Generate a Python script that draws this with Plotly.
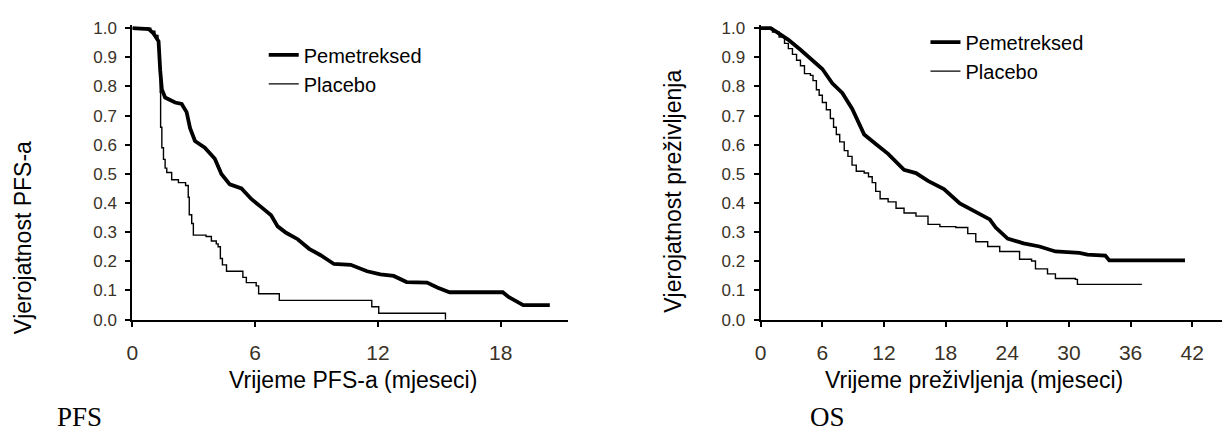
import plotly.graph_objects as go

# ---------------- data ----------------
pfs_pem_months = [0, 0.8, 1.03, 1.28, 1.36, 1.44, 1.6, 2.09, 2.41, 2.65, 2.82, 3.06, 3.54, 4.03,
                  4.35, 4.76, 5.33, 5.81, 6.3, 6.78, 7.1, 7.51, 8.08, 8.64, 9.2, 9.85, 10.67,
                  11.47, 12.12, 12.77, 13.4, 14.4, 14.9, 15.5, 18.1, 18.4, 19.1, 20.4]
pfs_pem_prob = [1.0, 0.997, 0.982, 0.955, 0.855, 0.79, 0.762, 0.745, 0.74, 0.712, 0.657, 0.613,
                0.59, 0.552, 0.50, 0.464, 0.45, 0.414, 0.386, 0.358, 0.32, 0.298, 0.276, 0.243,
                0.221, 0.191, 0.188, 0.166, 0.155, 0.15, 0.129, 0.127, 0.11, 0.094, 0.094, 0.077,
                0.05, 0.05]

pfs_pla_months = [0, 0.9, 1.1, 1.25, 1.3, 1.36, 1.38, 1.44, 1.52, 1.6, 1.68, 1.92, 2.25, 2.6,
                  2.73, 2.78, 2.9, 2.98, 3.6, 3.86, 4.1, 4.19, 4.3, 4.4, 4.6, 5.4, 5.57, 6.05,
                  6.17, 7.18, 11.7, 12.04, 15.3]
pfs_pla_prob = [1.0, 0.99, 0.975, 0.95, 0.88, 0.78, 0.66, 0.59, 0.55, 0.52, 0.505, 0.48, 0.47,
                0.46, 0.42, 0.36, 0.33, 0.29, 0.285, 0.27, 0.26, 0.25, 0.21, 0.188, 0.166, 0.145,
                0.127, 0.116, 0.089, 0.066, 0.044, 0.022, 0.0]

os_pem_months = [0, 0.97, 1.55, 2.71, 3.88, 5.04, 6.01, 6.98, 7.95, 8.92, 10.08, 11.24, 12.41,
                 13.96, 15.12, 16.29, 17.84, 19.39, 20.94, 22.3, 22.88, 24.04, 25.59, 27.14,
                 28.69, 31.02, 31.8, 33.54, 33.93, 41.3]
os_pem_prob = [1.0, 1.0, 0.987, 0.96, 0.926, 0.888, 0.86, 0.811, 0.778, 0.723, 0.635, 0.602,
               0.569, 0.514, 0.503, 0.476, 0.448, 0.399, 0.371, 0.344, 0.316, 0.278, 0.262,
               0.251, 0.234, 0.229, 0.223, 0.22, 0.203, 0.203]

os_pla_months = [0, 1.16, 1.8, 2.33, 2.7, 3.1, 3.5, 3.88, 4.27, 4.85, 5.1, 5.43, 5.7, 6.01,
                 6.4, 6.79, 7.1, 7.37, 7.7, 8.14, 8.5, 8.9, 9.31, 10.08, 10.5, 10.86, 11.2,
                 11.63, 12.41, 13.18, 13.96, 15.12, 16.29, 17.45, 19.0, 20.16, 20.94, 22.1,
                 23.27, 25.2, 26.37, 26.75, 27.92, 28.69, 30.63, 30.83, 37.1]
os_pla_prob = [1.0, 0.987, 0.97, 0.948, 0.93, 0.91, 0.89, 0.871, 0.844, 0.838, 0.82, 0.789,
               0.77, 0.745, 0.72, 0.69, 0.66, 0.635, 0.61, 0.58, 0.56, 0.53, 0.509, 0.503,
               0.49, 0.47, 0.44, 0.415, 0.404, 0.382, 0.366, 0.355, 0.327, 0.319, 0.316, 0.295,
               0.267, 0.251, 0.234, 0.207, 0.201, 0.174, 0.157, 0.141, 0.138, 0.121, 0.121]

series_names = ["Pemetreksed", "Placebo"]
y_ticks = [0.0, 0.1, 0.2, 0.3, 0.4, 0.5, 0.6, 0.7, 0.8, 0.9, 1.0]
pfs_x_ticks = [0, 6, 12, 18]
os_x_ticks = [0, 6, 12, 18, 24, 30, 36, 42]

y_title_pfs = "Vjerojatnost PFS-a"
y_title_os = "Vjerojatnost preživljenja"
x_title_pfs = "Vrijeme PFS-a (mjeseci)"
x_title_os = "Vrijeme preživljenja (mjeseci)"
panel_pfs = "PFS"
panel_os = "OS"

# ---------------- figure ----------------
W, H = 1225, 439
SANS = "Liberation Sans, Arial, sans-serif"
SERIF = "Liberation Serif, Times New Roman, serif"
TICKCOL = "#3a3226"

fig = go.Figure()

fig.add_trace(go.Scatter(x=pfs_pem_months, y=pfs_pem_prob, mode="lines", name=series_names[0],
                         line=dict(color="black", width=3.8), xaxis="x", yaxis="y",
                         legend="legend"))
fig.add_trace(go.Scatter(x=pfs_pla_months, y=pfs_pla_prob, mode="lines", name=series_names[1],
                         line=dict(color="black", width=1.4, shape="hv"), xaxis="x", yaxis="y",
                         legend="legend"))
fig.add_trace(go.Scatter(x=os_pem_months, y=os_pem_prob, mode="lines", name=series_names[0],
                         line=dict(color="black", width=3.8), xaxis="x2", yaxis="y2",
                         legend="legend2"))
fig.add_trace(go.Scatter(x=os_pla_months, y=os_pla_prob, mode="lines", name=series_names[1],
                         line=dict(color="black", width=1.4, shape="hv"), xaxis="x2", yaxis="y2",
                         legend="legend2"))

y_dom = [(H - 325.5) / H, (H - 20.0) / H]

x_common = dict(showline=True, linecolor="black", linewidth=2, ticks="outside",
                ticklen=5, tickwidth=1.5, tickcolor="black", showgrid=False,
                zeroline=False, ticklabelstandoff=8,
                tickfont=dict(family=SANS, size=21, color=TICKCOL))
y_common = dict(showline=True, linecolor="black", linewidth=2, ticks="outside",
                ticklen=5, tickwidth=1.5, tickcolor="black", showgrid=False,
                zeroline=False, ticklabelstandoff=5,
                tickfont=dict(family=SANS, size=17, color=TICKCOL))

fig.update_layout(
    width=W, height=H,
    margin=dict(l=0, r=0, t=0, b=0),
    paper_bgcolor="white", plot_bgcolor="white",
    xaxis=dict(domain=[127 / W, 565 / W], range=[0, 21.3], tickvals=pfs_x_ticks,
               anchor="y", **x_common),
    yaxis=dict(domain=y_dom, range=[0, 1.01], tickvals=y_ticks, tickformat=".1f",
               anchor="x", **y_common),
    xaxis2=dict(domain=[758.3 / W, 1222 / W], range=[0, 44.9], tickvals=os_x_ticks,
                anchor="y2", **x_common),
    yaxis2=dict(domain=y_dom, range=[0, 1.01], tickvals=y_ticks, tickformat=".1f",
                anchor="x2", **y_common),
    legend=dict(x=259 / W, y=1 - 30.5 / H, xanchor="left", yanchor="top",
                bgcolor="rgba(0,0,0,0)", font=dict(family=SANS, size=20, color="black"),
                tracegroupgap=0),
    legend2=dict(x=924 / W, y=1 - 17.3 / H, xanchor="left", yanchor="top",
                 bgcolor="rgba(0,0,0,0)", font=dict(family=SANS, size=20, color="black"),
                 tracegroupgap=0),
    showlegend=True,
)


def label(text, px, py, size, family, angle=0):
    return dict(text=text, x=px / W, y=1 - py / H, xref="paper", yref="paper",
                xanchor="center", yanchor="middle", textangle=angle, showarrow=False,
                font=dict(family=family, size=size, color="black"))


fig.update_layout(annotations=[
    label(y_title_pfs, 17, 240, 23, SANS, -90),
    label(y_title_os, 670, 192, 23, SANS, -90),
    label(x_title_pfs, 349, 388, 23, SANS),
    label(x_title_os, 973, 388, 23, SANS),
    label(panel_pfs, 74, 427, 27, SERIF),
    label(panel_os, 826, 427, 27, SERIF),
])

fig.write_html("out.html", config={"displayModeBar": False},
               post_script="document.body.style.margin='0';")
